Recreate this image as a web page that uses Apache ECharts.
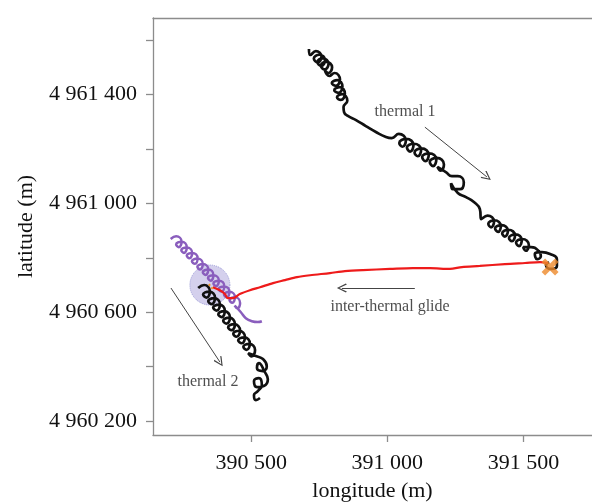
<!DOCTYPE html>
<html>
<head>
<meta charset="utf-8">
<script src="https://cdn.jsdelivr.net/npm/echarts@6/dist/echarts.min.js"></script>
<style>html,body{margin:0;padding:0;background:#fff}#c{width:592px;height:502px}</style>
</head>
<body>
<div id="c"></div>
<script>
// axis ranges (m)
var lonRange = [390139, 391752];
var latRange = [4960149, 4961681];
var lonTicks = [390500, 391000, 391500];
var latTicks = [4960200, 4960400, 4960600, 4960800, 4961000, 4961200, 4961400, 4961600];
var latLabels = [4960200, 4960600, 4961000, 4961400];

// thermal 1 track (black) [longitude, latitude]
var thermal1 = [
[390712,4961567],
[390717,4961545],[390737,4961559],[390758,4961539],[390744,4961518],[390730,4961532],[390750,4961546],
[390771,4961526],[390757,4961505],[390743,4961519],[390763,4961533],[390784,4961513],[390770,4961492],
[390756,4961506],[390776,4961520],[390797,4961500],[390783,4961479],[390769,4961493],
[390787,4961468],[390806,4961479],[390826,4961455],[390811,4961432],[390796,4961442],[390816,4961453],
[390835,4961429],[390820,4961406],[390805,4961416],[390825,4961427],[390844,4961403],[390829,4961380],
[390815,4961390],[390834,4961401],[390853,4961377],[390839,4961354],
[390841,4961335],[390855,4961321],[390885,4961306],[390921,4961284],[390958,4961262],[390995,4961244],
[391016,4961240],[391042,4961255],[391068,4961231],[391056,4961208],[391044,4961222],[391070,4961237],
[391096,4961214],[391084,4961190],[391072,4961205],[391098,4961219],[391124,4961196],[391112,4961173],
[391100,4961187],[391126,4961202],[391152,4961178],[391140,4961155],[391128,4961170],[391154,4961184],
[391180,4961161],[391168,4961137],[391156,4961152],[391182,4961167],[391208,4961143],[391196,4961120],
[391184,4961134],
[391215,4961115],[391237,4961100],[391259,4961100],[391281,4961078],[391267,4961052],[391241,4961052],
[391234,4961074],[391259,4961038],[391289,4961023],[391318,4961005],[391340,4960979],
[391345,4960942],[391368,4960955],[391392,4960933],[391381,4960912],[391371,4960925],[391394,4960938],
[391417,4960916],[391407,4960895],[391396,4960908],[391420,4960920],[391443,4960899],[391432,4960878],
[391422,4960890],[391445,4960903],[391469,4960882],[391458,4960861],[391447,4960873],[391471,4960886],
[391494,4960865],[391484,4960843],[391473,4960856],[391496,4960869],[391520,4960847],[391509,4960826],
[391499,4960839],
[391528,4960839],[391553,4960828],[391564,4960806],[391550,4960795],[391542,4960814],[391568,4960821],
[391598,4960814],[391623,4960795],[391623,4960770],[391601,4960759],[391583,4960773],[391594,4960784]
];

// inter-thermal glide (red)
var glide = [
[391590,4960781],[391561,4960784],[391506,4960781],[391432,4960777],[391340,4960770],[391274,4960766],
[391230,4960759],[391157,4960762],[391094,4960762],[391010,4960759],[390910,4960755],[390844,4960751],
[390789,4960744],[390716,4960736],[390668,4960729],[390624,4960718],[390580,4960707],[390532,4960692],
[390495,4960681],[390458,4960667],[390433,4960652],[390414,4960652],[390403,4960667],[390385,4960681],
[390359,4960692]
];

// second bird track (purple)
var purpleTrack = [
[390204,4960869],[390224,4960879],[390244,4960859],[390234,4960839],[390224,4960849],[390244,4960859],
[390263,4960838],[390253,4960818],[390243,4960828],[390263,4960838],[390283,4960818],[390273,4960798],
[390263,4960808],[390283,4960818],[390303,4960798],[390293,4960778],[390282,4960787],[390302,4960797],
[390322,4960777],[390312,4960757],[390302,4960767],[390322,4960777],[390342,4960757],[390332,4960737],
[390322,4960747],[390342,4960757],[390361,4960736],[390351,4960716],[390341,4960726],[390361,4960736],
[390381,4960716],[390371,4960696],[390361,4960706],[390381,4960716],[390401,4960696],[390391,4960676],
[390380,4960685],[390400,4960695],[390420,4960675],[390410,4960655],[390400,4960665],[390420,4960675],
[390440,4960655],[390430,4960635],[390420,4960645],[390440,4960655],[390459,4960634],[390449,4960614],
[390439,4960624],
[390462,4960600],[390480,4960578],[390502,4960567],[390524,4960564],[390539,4960567]
];

// thermal 2 track (black)
var thermal2 = [
[390305,4960689],[390327,4960700],[390348,4960677],[390336,4960654],[390323,4960665],[390345,4960676],
[390367,4960653],[390354,4960630],[390342,4960641],[390363,4960652],[390385,4960629],[390373,4960606],
[390360,4960617],[390382,4960628],[390403,4960605],[390391,4960582],[390379,4960593],[390400,4960604],
[390422,4960581],[390409,4960558],[390397,4960569],[390419,4960580],[390440,4960557],[390428,4960534],
[390415,4960545],[390437,4960556],[390459,4960533],[390446,4960510],[390434,4960521],[390455,4960532],
[390477,4960509],[390465,4960486],[390452,4960497],[390474,4960508],[390495,4960485],[390483,4960462],
[390471,4960473],[390492,4960484],[390514,4960461],[390501,4960438],[390489,4960449],
[390517,4960439],[390543,4960428],[390557,4960402],[390543,4960384],[390521,4960395],[390528,4960413],
[390550,4960380],[390561,4960354],[390546,4960329],[390521,4960325],[390510,4960347],[390528,4960358],
[390539,4960332],[390524,4960310],[390510,4960296],[390517,4960277],[390532,4960285]
];

var thermalZone = [[390348, 4960700]];
var departure = [[391598, 4960766]];
var orangeBits = [[390344, 4960703], [390359, 4960685]];

var annotations = [
  {text: 'thermal 1', at: [391065, 4961335]},
  {text: 'inter-thermal glide', at: [391010, 4960619]},
  {text: 'thermal 2', at: [390341, 4960343]}
];
var arrows = [
  [[391138, 4961280], [391366, 4961097]],
  [[391101, 4960689], [390833, 4960689]],
  [[390205, 4960689], [390385, 4960417]]
];

var serif = '"Liberation Serif","Times New Roman",serif';
function fmt(v) { return String(Math.round(v)).replace(/\B(?=(\d{3})+(?!\d))/g, ' '); }

var chart = echarts.init(document.getElementById('c'), null, {renderer: 'canvas'});
var axisGray = '#8c8c8c';
var chevron = 'path://M5,0 L10,9 L9,10 L5,2.5 L1,10 L0,9 Z';

chart.setOption({
  animation: false,
  backgroundColor: '#fff',
  grid: {left: 153, right: 0, top: 18, bottom: 67, outerBoundsMode: 'none', containLabel: false},
  xAxis: [{
    type: 'value', min: lonRange[0], max: lonRange[1],
    name: 'longitude (m)', nameLocation: 'middle', nameGap: 45,
    nameTextStyle: {fontFamily: serif, fontSize: 22, color: '#111'},
    axisLine: {show: true, lineStyle: {color: axisGray, width: 1.3}},
    axisTick: {show: true, inside: false, length: 7, customValues: lonTicks, lineStyle: {color: axisGray, width: 1.3}},
    axisLabel: {show: true, margin: 17, customValues: lonTicks, formatter: fmt, fontFamily: serif, fontSize: 22, color: '#111'},
    splitLine: {show: false}
  }, {
    type: 'value', position: 'top', min: lonRange[0], max: lonRange[1],
    axisLine: {show: true, onZero: false, lineStyle: {color: axisGray, width: 1.3}},
    axisTick: {show: false}, axisLabel: {show: false}, splitLine: {show: false}
  }],
  yAxis: {
    type: 'value', min: latRange[0], max: latRange[1],
    name: 'latitude (m)', nameLocation: 'middle', nameGap: 116,
    nameTextStyle: {fontFamily: serif, fontSize: 22, color: '#111'},
    axisLine: {show: true, onZero: false, lineStyle: {color: axisGray, width: 1.3}},
    axisTick: {show: true, inside: false, length: 7, customValues: latTicks, lineStyle: {color: axisGray, width: 1.3}},
    axisLabel: {show: true, margin: 16, customValues: latLabels, formatter: fmt, fontFamily: serif, fontSize: 22, color: '#111'},
    splitLine: {show: false}
  },
  series: [
    {type: 'scatter', data: thermalZone, symbol: 'circle', symbolSize: 40, z: 1, silent: true,
     itemStyle: {color: 'rgba(120,110,200,0.4)', borderColor: '#8a8ad0', borderWidth: 1, borderType: 'dotted'}},
    {type: 'line', data: thermal1, smooth: 0.5, showSymbol: false, z: 3, silent: true,
     lineStyle: {color: '#111', width: 2.7}},
    {type: 'line', data: thermal2, smooth: 0.5, showSymbol: false, z: 3, silent: true,
     lineStyle: {color: '#111', width: 2.7}},
    {type: 'line', data: purpleTrack, smooth: 0.5, showSymbol: false, z: 4, silent: true,
     lineStyle: {color: '#8a5ebd', width: 2.5}},
    {type: 'line', data: glide, smooth: 0.3, showSymbol: false, z: 5, silent: true,
     lineStyle: {color: '#ee1b1b', width: 2.2}},
    {type: 'line', data: orangeBits, showSymbol: false, z: 6, silent: true,
     lineStyle: {color: '#f0962a', width: 2, type: 'dotted'}},
    {type: 'scatter', data: departure, z: 7, silent: true,
     symbol: 'path://M0,2.5 L2.5,0 L6,3.5 L9.5,0 L12,2.5 L8.5,6 L12,9.5 L9.5,12 L6,8.5 L2.5,12 L0,9.5 L3.5,6 Z',
     symbolSize: 17, itemStyle: {color: '#ee8a2a'}},
    {type: 'scatter', data: annotations.map(function (a) { return {value: a.at, name: a.text}; }),
     symbolSize: 0, z: 8, silent: true,
     label: {show: true, position: 'inside', formatter: function (p) { return p.name; },
       fontFamily: serif, fontSize: 16, color: '#222'}},
    {type: 'line', data: [], z: 8, silent: true,
     markLine: {silent: true, symbol: ['none', chevron], symbolSize: [9, 10],
       label: {show: false}, emphasis: {disabled: true},
       lineStyle: {color: '#444', width: 1, type: 'solid'},
       data: arrows.map(function (a) { return [{coord: a[0]}, {coord: a[1]}]; })}}
  ]
});
</script>
</body>
</html>
